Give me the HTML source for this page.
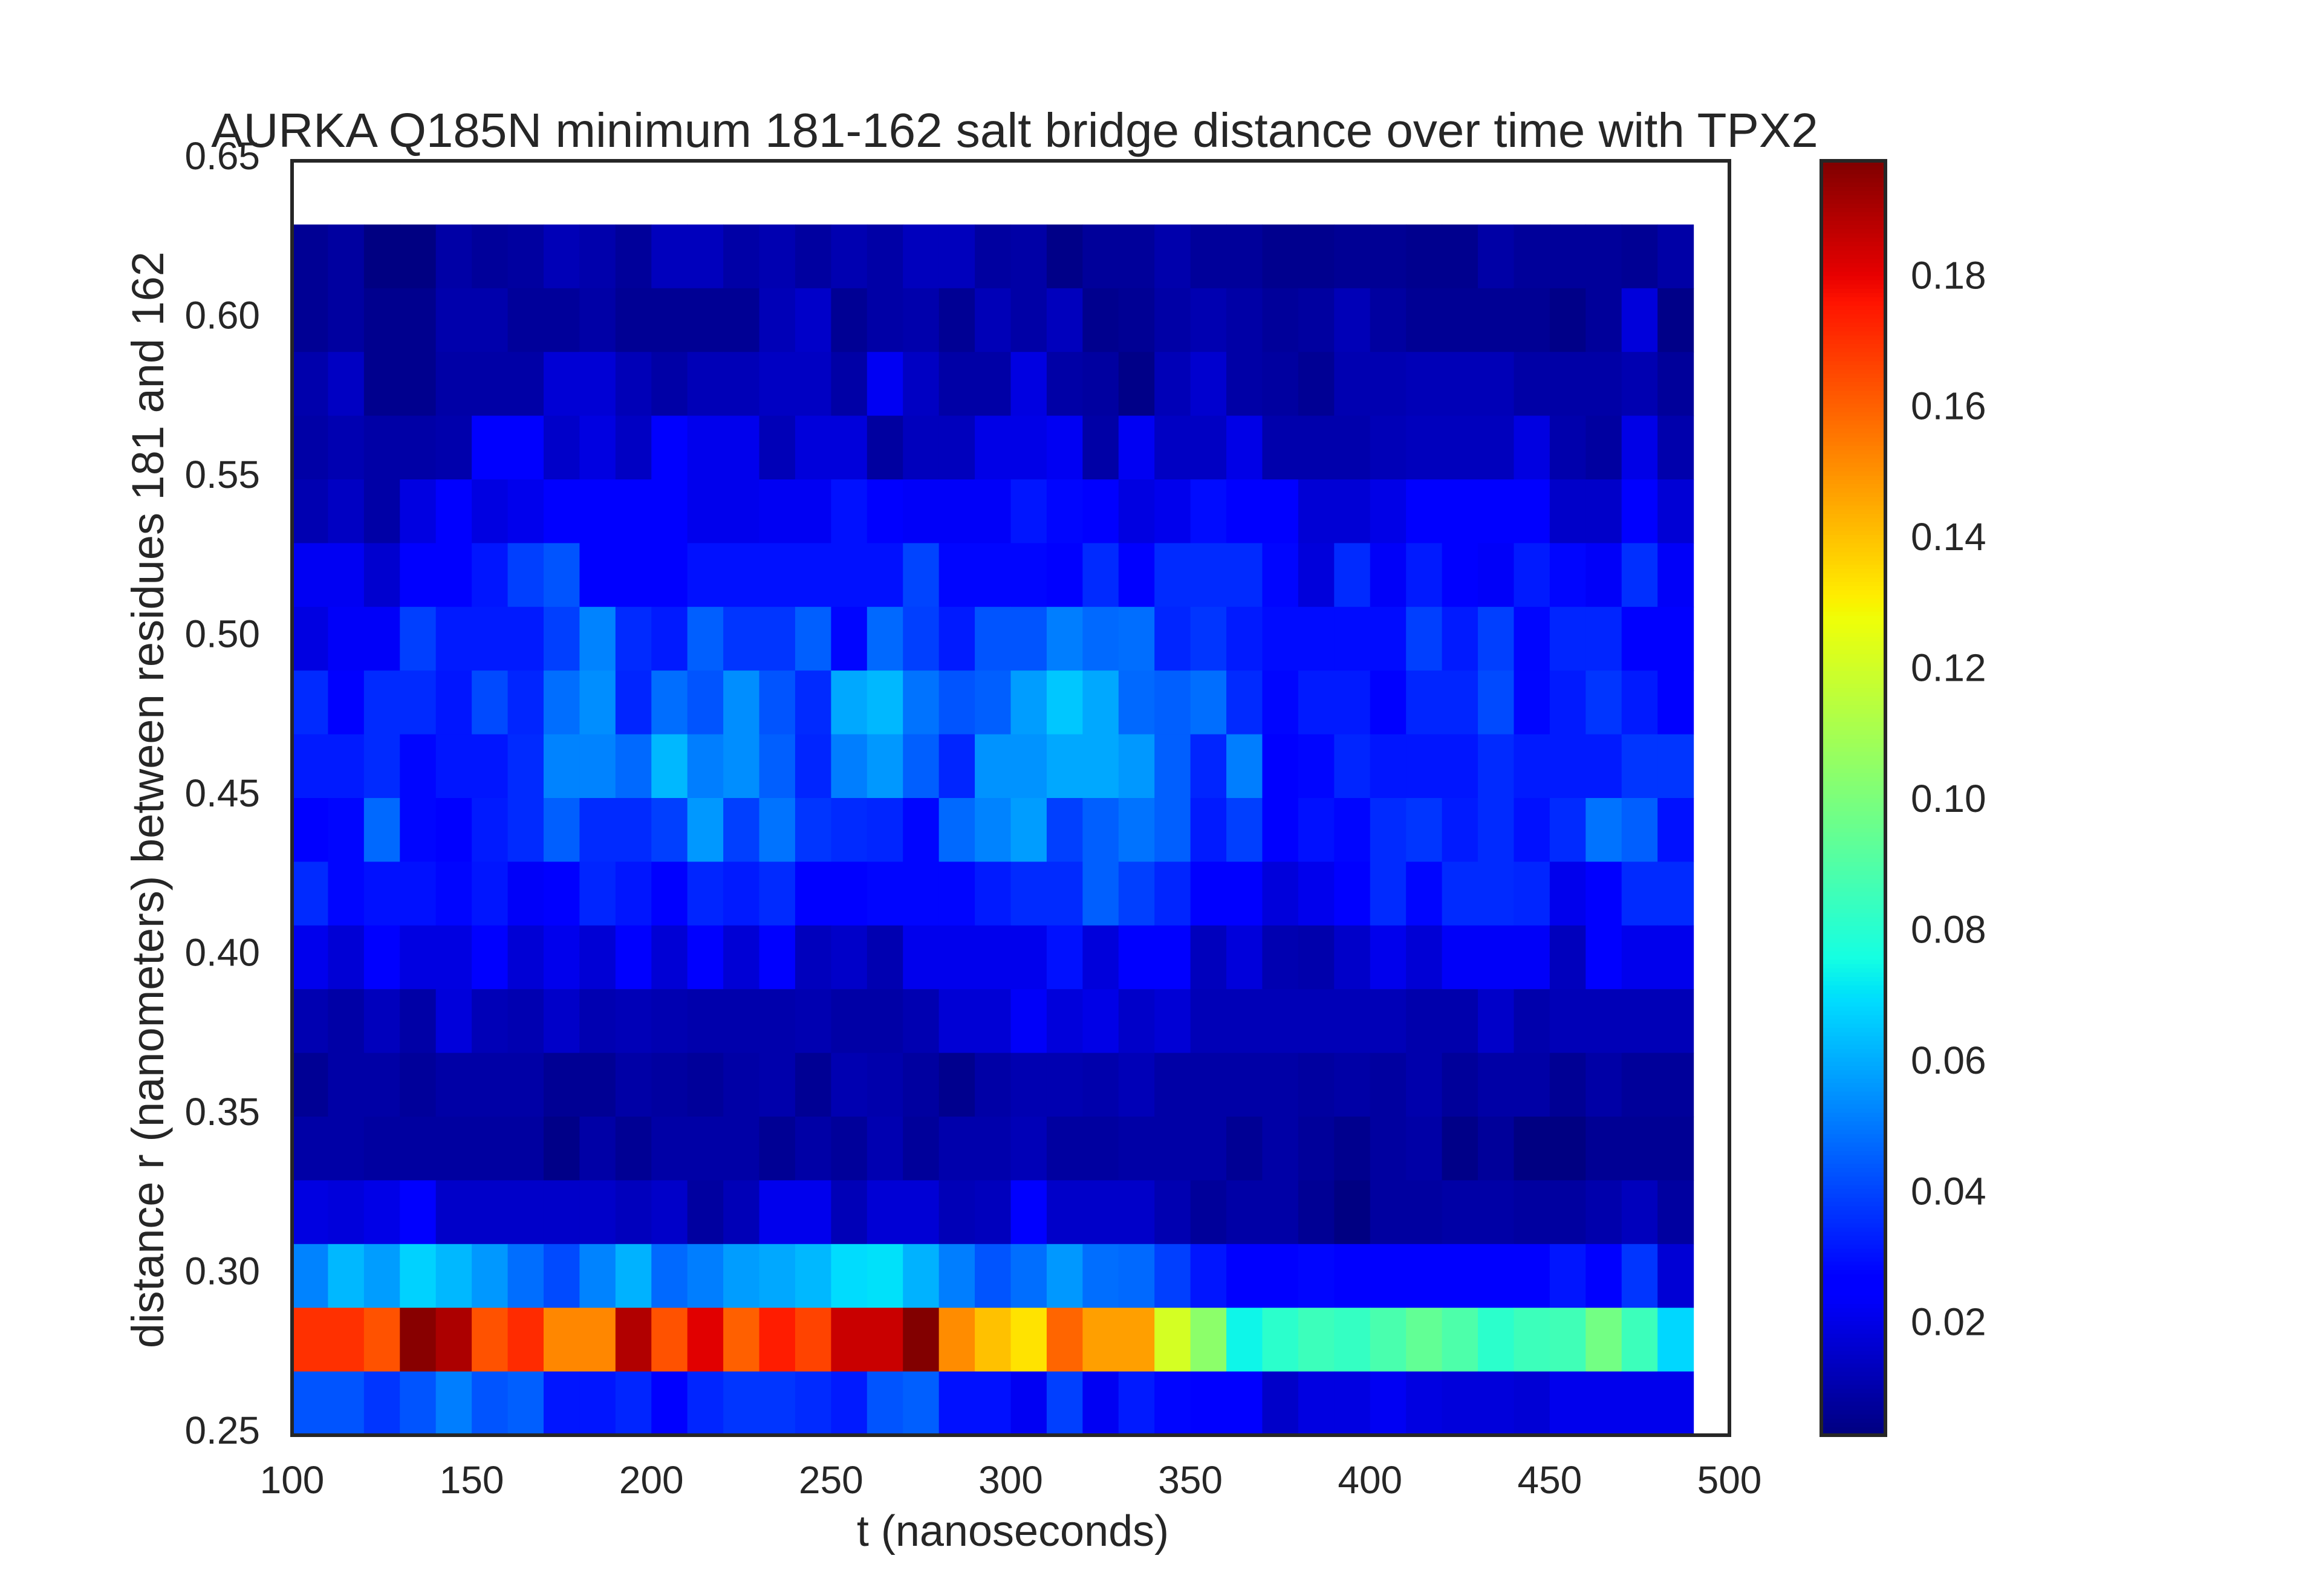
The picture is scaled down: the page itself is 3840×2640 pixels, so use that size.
<!DOCTYPE html>
<html><head><meta charset="utf-8"><style>
html,body{margin:0;padding:0;background:#fff;}
svg{display:block;font-family:"Liberation Sans",sans-serif;}
</style></head><body>
<svg id="chart" width="3840" height="2640" viewBox="0 0 3840 2640" xmlns="http://www.w3.org/2000/svg">
<rect x="0" y="0" width="3840" height="2640" fill="#fff"/>
<text x="1678" y="243" font-size="80" fill="#262626" text-anchor="middle">AURKA Q185N minimum 181-162 salt bridge distance over time with TPX2</text>
<g id="heat"></g>
<rect x="483" y="266" width="2377" height="2108" fill="none" stroke="#262626" stroke-width="6"/>
<g id="xt"></g>
<g id="yt"></g>
<text x="1675" y="2557" font-size="72" fill="#262626" text-anchor="middle">t (nanoseconds)</text>
<text transform="translate(270,1323) rotate(-90)" font-size="74" fill="#262626" text-anchor="middle">distance r (nanometers) between residues 181 and 162</text>
<g id="cb"></g>
</svg>
<script>
// data: time bin starts (ns), distance bin starts (nm), values in units of 1e-3
const timeBins = [100,110,120,130,140,150,160,170,180,190,200,210,220,230,240,250,260,270,280,290,300,310,320,330,340,350,360,370,380,390,400,410,420,430,440,450,460,470,480];
const distBins = [0.61,0.59,0.57,0.55,0.53,0.51,0.49,0.47,0.45,0.43,0.41,0.39,0.37,0.35,0.33,0.31,0.29,0.27,0.25];
const r61 = [6,8,3,3,9,7,8,12,10,7,13,13,9,11,8,11,9,13,13,8,9,4,7,7,10,7,7,5,5,6,6,5,5,9,7,7,7,6,9];
const r59 = [6,8,5,5,10,10,7,7,9,6,6,6,6,12,15,6,9,10,6,12,9,13,5,6,9,11,9,7,8,12,8,6,6,6,6,4,7,18,4];
const r57 = [10,14,5,5,9,9,9,17,17,12,9,12,12,14,14,9,22,14,9,9,19,9,8,4,12,16,9,8,6,11,11,12,12,12,9,9,9,11,7];
const r55 = [9,11,9,9,10,24,24,15,19,14,24,21,21,12,18,18,8,13,13,20,20,22,9,22,14,14,20,10,10,10,12,13,13,13,19,10,8,20,10];
const r53 = [11,14,9,19,24,19,21,24,24,24,24,21,21,22,22,30,26,23,23,23,31,28,24,19,21,29,25,25,17,17,20,24,24,24,24,15,15,24,17];
const r51 = [22,22,16,24,24,31,39,43,24,24,27,30,30,30,30,30,30,40,28,28,28,27,35,24,35,35,35,28,18,35,23,32,27,23,32,28,23,36,23];
const r49 = [19,23,23,39,32,32,32,39,52,35,32,45,37,37,45,28,47,39,32,43,43,51,47,48,34,37,32,29,29,29,29,39,32,39,28,34,34,27,26];
const r47 = [35,24,35,35,31,41,34,48,54,34,48,43,54,43,35,59,62,49,43,45,57,65,59,47,45,48,35,28,32,32,24,34,34,41,28,32,37,32,27];
const r45 = [32,32,35,28,31,31,35,52,52,47,62,51,54,45,34,51,56,45,34,55,55,59,59,56,45,34,51,27,28,34,31,31,31,35,32,32,32,37,37];
const r43 = [24,28,47,28,26,32,35,45,35,35,39,56,39,49,37,35,34,28,47,52,57,39,45,49,45,32,39,24,30,28,35,37,32,35,30,35,49,45,30];
const r41 = [35,28,30,30,28,31,23,27,34,31,27,34,32,35,27,27,28,28,28,32,35,35,45,39,34,24,27,18,21,24,35,28,35,35,34,21,27,35,35];
const r39 = [21,17,24,19,19,24,17,21,17,24,17,24,17,24,13,15,11,21,21,21,21,30,18,24,24,13,18,11,10,15,21,17,23,23,23,13,24,21,21];
const r37 = [11,9,13,9,18,12,11,15,11,12,11,10,10,10,11,9,9,11,17,17,23,18,20,15,17,12,12,12,12,12,12,10,10,15,10,12,12,12,12];
const r35 = [6,9,9,7,9,9,9,6,6,9,8,7,9,10,6,11,10,8,5,9,11,11,10,12,9,9,9,9,8,9,8,10,7,9,9,6,9,7,7];
const r33 = [9,9,8,8,8,8,8,4,9,6,9,9,9,6,9,7,11,7,10,10,12,8,8,9,9,9,6,9,7,5,8,9,4,7,3,3,6,6,6];
const r31 = [19,18,20,24,15,15,15,15,15,13,15,8,12,21,21,12,17,17,12,13,24,15,15,15,11,7,9,9,6,3,8,8,9,9,8,8,10,13,8];
const r29 = [52,62,57,67,62,56,48,41,52,61,47,51,57,59,62,69,70,61,51,43,48,56,48,47,39,31,24,24,28,24,26,26,26,26,26,31,24,37,17];
const r27 = [170,170,163,196,190,163,171,152,152,189,163,181,160,174,166,185,185,197,151,140,133,159,147,147,121,104,74,81,85,83,88,94,89,81,85,86,98,85,68];
const r25 = [43,43,37,43,51,43,45,31,31,34,24,34,37,37,35,32,43,45,30,30,22,39,22,32,28,24,24,15,19,19,22,19,18,18,17,21,21,21,21];
const rows = [r61,r59,r57,r55,r53,r51,r49,r47,r45,r43,r41,r39,r37,r35,r33,r31,r29,r27,r25];
const xTicks = [100,150,200,250,300,350,400,450,500];
const yTicks = [0.25,0.30,0.35,0.40,0.45,0.50,0.55,0.60,0.65];
const cbTicks = [0.02,0.04,0.06,0.08,0.10,0.12,0.14,0.16,0.18];
const vMin = 0.0026, vMax = 0.1974;

const NS='http://www.w3.org/2000/svg';
const L=483, R=2860, T=266, B=2374;
const xs = t => L + (t-100)/400*(R-L);
const ys = d => B - (d-0.25)/0.40*(B-T);
function interp(pts,f){for(let i=1;i<pts.length;i++){if(f<=pts[i][0]){const a=pts[i-1],b=pts[i];return a[1]+(b[1]-a[1])*(f-a[0])/(b[0]-a[0]);}}return pts[pts.length-1][1];}
function jet(v){
  let f=(v-vMin)/(vMax-vMin); f=Math.max(0,Math.min(1,f));
  const r=interp([[0,0],[0.35,0],[0.66,1],[0.89,1],[1,0.5]],f);
  const g=interp([[0,0],[0.125,0],[0.375,1],[0.64,1],[0.91,0],[1,0]],f);
  const b=interp([[0,0.5],[0.11,1],[0.34,1],[0.65,0],[1,0]],f);
  return 'rgb('+Math.round(r*255)+','+Math.round(g*255)+','+Math.round(b*255)+')';
}
function mk(tag,attrs,parent){const e=document.createElementNS(NS,tag);for(const k in attrs)e.setAttribute(k,attrs[k]);parent.appendChild(e);return e;}

const heat=document.getElementById('heat');
rows.forEach((row,ri)=>{
  const d=distBins[ri];
  row.forEach((val,ci)=>{
    const t=timeBins[ci];
    const x0=xs(t), x1=xs(t+10), y0=ys(d+0.02), y1=ys(d);
    const c=mk('rect',{x:x0,y:y0,width:x1-x0+0.6,height:y1-y0+0.6,fill:jet(val/1000)},heat);
    
    
  });
});

const xt=document.getElementById('xt');
xTicks.forEach(t=>{
  const e=mk('text',{x:xs(t),y:2470,'font-size':64,fill:'#262626','text-anchor':'middle'},xt);
  e.textContent=String(t);
  
  
});
const yt=document.getElementById('yt');
yTicks.forEach(d=>{
  const e=mk('text',{x:430,y:ys(d)+14,'font-size':64,fill:'#262626','text-anchor':'end'},yt);
  e.textContent=d.toFixed(2);
  
  
});

const cb=document.getElementById('cb');
const CL=3012, CR=3118;
const cy = v => B - (v-vMin)/(vMax-vMin)*(B-T);
const N=300;
for(let i=0;i<N;i++){
  const v0=vMin+(vMax-vMin)*i/N, v1=vMin+(vMax-vMin)*(i+1)/N;
  const s=mk('rect',{x:CL,y:cy(v1),width:CR-CL,height:cy(v0)-cy(v1)+0.8,fill:jet((v0+v1)/2)},cb);
  
  
}
const fr=mk('rect',{x:CL,y:T,width:CR-CL,height:B-T,fill:'none',stroke:'#262626','stroke-width':6},cb);


cbTicks.forEach(v=>{
  const e=mk('text',{x:3160,y:cy(v)+23,'font-size':64,fill:'#262626'},cb);
  e.textContent=v.toFixed(2);
  
  
});
</script>
</body></html>
